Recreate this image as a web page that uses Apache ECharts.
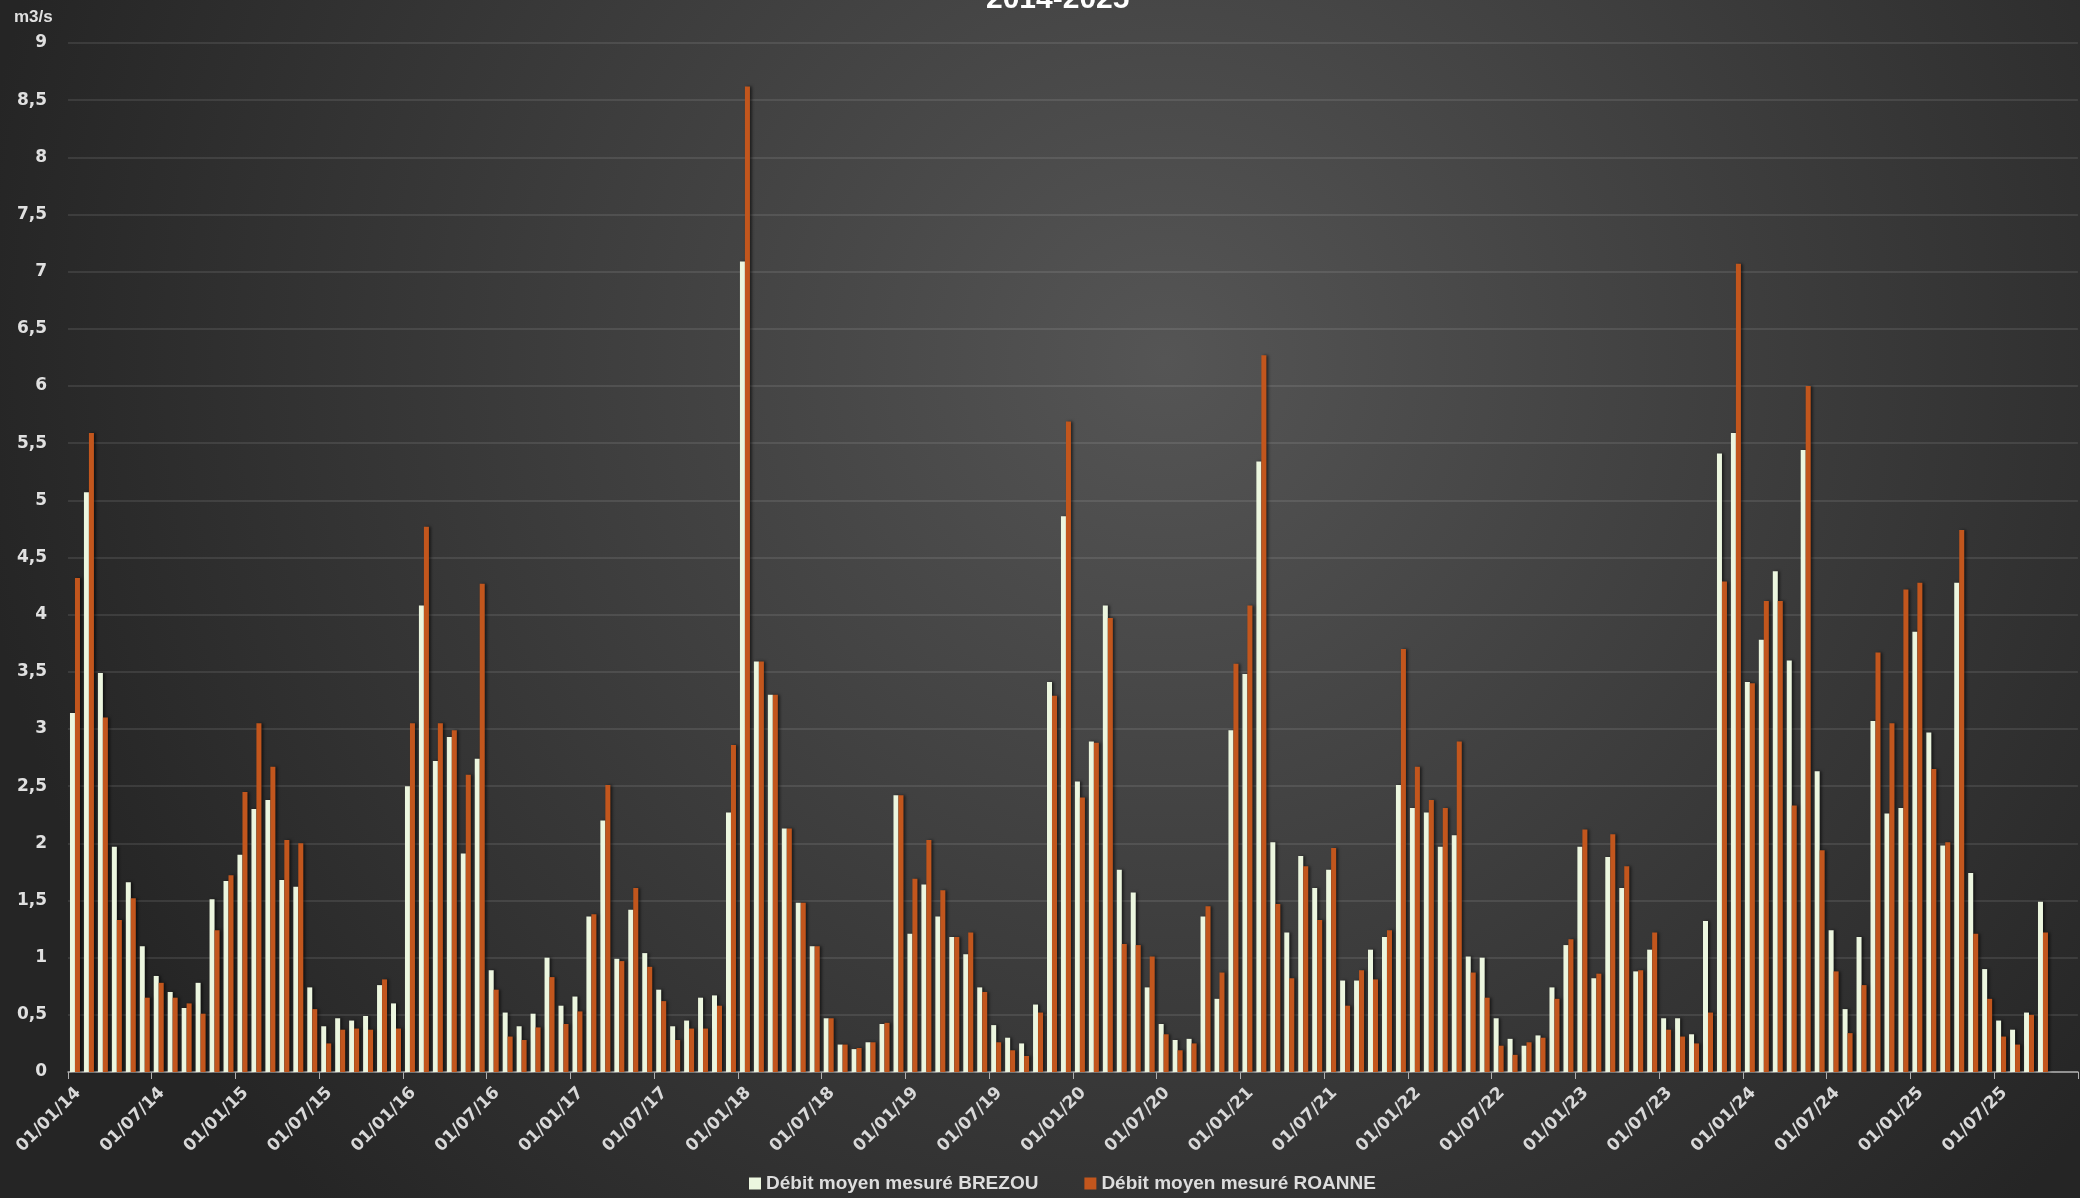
<!DOCTYPE html>
<html>
<head>
<meta charset="utf-8">
<script src="https://cdn.jsdelivr.net/npm/echarts@6/dist/echarts.min.js"></script>
<style>
  html, body { margin: 0; padding: 0; background: #2a2a2a; }
  #main { width: 2080px; height: 1198px; }
</style>
</head>
<body>
<div id="main"></div>
<script>
// mois de janvier 2014 a decembre 2025
var years = ['14', '15', '16', '17', '18', '19', '20', '21', '22', '23', '24', '25'];
var months = [];
years.forEach(function (y) {
    for (var m = 1; m <= 12; m++) months.push((m < 10 ? '0' + m : '' + m) + '/' + y);
});

var tickLabels = ['01/01/14', '01/07/14', '01/01/15', '01/07/15', '01/01/16', '01/07/16',
    '01/01/17', '01/07/17', '01/01/18', '01/07/18', '01/01/19', '01/07/19',
    '01/01/20', '01/07/20', '01/01/21', '01/07/21', '01/01/22', '01/07/22',
    '01/01/23', '01/07/23', '01/01/24', '01/07/24', '01/01/25', '01/07/25'];

// débit moyen mensuel BREZOU (m3/s)
var brezou = [
    3.14, 5.07, 3.49, 1.97, 1.66, 1.10, 0.84, 0.70, 0.56, 0.78, 1.51, 1.67,
    1.90, 2.30, 2.38, 1.68, 1.62, 0.74, 0.40, 0.47, 0.45, 0.49, 0.76, 0.60,
    2.50, 4.08, 2.72, 2.93, 1.91, 2.74, 0.89, 0.52, 0.40, 0.51, 1.00, 0.58,
    0.66, 1.36, 2.20, 0.99, 1.42, 1.04, 0.72, 0.40, 0.45, 0.65, 0.67, 2.27,
    7.09, 3.59, 3.30, 2.13, 1.48, 1.10, 0.47, 0.24, 0.20, 0.26, 0.42, 2.42,
    1.21, 1.64, 1.36, 1.18, 1.03, 0.74, 0.41, 0.30, 0.25, 0.59, 3.41, 4.86,
    2.54, 2.89, 4.08, 1.77, 1.57, 0.74, 0.42, 0.28, 0.29, 1.36, 0.64, 2.99,
    3.48, 5.34, 2.01, 1.22, 1.89, 1.61, 1.77, 0.80, 0.80, 1.07, 1.18, 2.51,
    2.31, 2.27, 1.97, 2.07, 1.01, 1.00, 0.47, 0.29, 0.23, 0.32, 0.74, 1.11,
    1.97, 0.82, 1.88, 1.61, 0.88, 1.07, 0.47, 0.47, 0.33, 1.32, 5.41, 5.59,
    3.41, 3.78, 4.38, 3.60, 5.44, 2.63, 1.24, 0.55, 1.18, 3.07, 2.26, 2.31,
    3.85, 2.97, 1.98, 4.28, 1.74, 0.90, 0.45, 0.37, 0.52, 1.49, null, null
];

// débit moyen mensuel ROANNE (m3/s)
var roanne = [
    4.32, 5.59, 3.10, 1.33, 1.52, 0.65, 0.78, 0.65, 0.60, 0.51, 1.24, 1.72,
    2.45, 3.05, 2.67, 2.03, 2.00, 0.55, 0.25, 0.37, 0.38, 0.37, 0.81, 0.38,
    3.05, 4.77, 3.05, 2.99, 2.60, 4.27, 0.72, 0.31, 0.28, 0.39, 0.83, 0.42,
    0.53, 1.38, 2.51, 0.97, 1.61, 0.92, 0.62, 0.28, 0.38, 0.38, 0.58, 2.86,
    8.62, 3.59, 3.30, 2.13, 1.48, 1.10, 0.47, 0.24, 0.21, 0.26, 0.43, 2.42,
    1.69, 2.03, 1.59, 1.18, 1.22, 0.70, 0.26, 0.19, 0.14, 0.52, 3.29, 5.69,
    2.40, 2.88, 3.97, 1.12, 1.11, 1.01, 0.33, 0.19, 0.25, 1.45, 0.87, 3.57,
    4.08, 6.27, 1.47, 0.82, 1.80, 1.33, 1.96, 0.58, 0.89, 0.81, 1.24, 3.70,
    2.67, 2.38, 2.31, 2.89, 0.87, 0.65, 0.23, 0.15, 0.26, 0.30, 0.64, 1.16,
    2.12, 0.86, 2.08, 1.80, 0.89, 1.22, 0.37, 0.31, 0.25, 0.52, 4.29, 7.07,
    3.40, 4.12, 4.12, 2.33, 6.00, 1.94, 0.88, 0.34, 0.76, 3.67, 3.05, 4.22,
    4.28, 2.65, 2.01, 4.74, 1.21, 0.64, 0.31, 0.24, 0.50, 1.22, null, null
];

var seriesNames = ['Débit moyen mesuré BREZOU', 'Débit moyen mesuré ROANNE'];

const Chart = echarts.init(document.getElementById('main'), null, { renderer: 'canvas' });

var barShadow = {
    shadowColor: 'rgba(0,0,0,0.55)',
    shadowBlur: 3,
    shadowOffsetX: 2
};

var option = {
    animation: false,
    backgroundColor: {
        type: 'radial', x: 0.56, y: 0.3, r: 1.0,
        colorStops: [
            { offset: 0, color: '#555555' },
            { offset: 1, color: '#252525' }
        ]
    },
    title: {
        text: '2014-2025',
        left: 981,
        top: -20,
        textStyle: {
            color: '#ffffff',
            fontFamily: 'Liberation Sans',
            fontWeight: 'bold',
            fontSize: 30
        }
    },
    graphic: [{
        type: 'text',
        left: 14,
        top: 9,
        style: {
            text: 'm3/s',
            fill: '#e0e0e0',
            font: 'bold 17px "Liberation Sans"'
        }
    }],
    legend: {
        data: seriesNames,
        bottom: 0,
        left: 744,
        icon: 'rect',
        itemWidth: 12,
        itemHeight: 12,
        itemGap: 46,
        itemStyle: { shadowBlur: 0, shadowOffsetX: 0 },
        textStyle: {
            color: '#dddddd',
            fontFamily: 'Liberation Sans',
            fontWeight: 'bold',
            fontSize: 19
        }
    },
    grid: {
        left: 68,
        top: 43,
        width: 2016,
        bottom: 126,
        containLabel: false
    },
    xAxis: [{
        type: 'category',
        data: months,
        axisLine: { lineStyle: { color: '#b0b0b0', width: 1.5 } },
        axisTick: { show: false },
        axisLabel: { show: false }
    }, {
        type: 'value',
        position: 'bottom',
        min: 0,
        max: 144,
        interval: 6,
        axisLine: { show: false },
        axisTick: { show: true, length: 7, lineStyle: { color: '#b0b0b0' } },
        splitLine: { show: false },
        axisLabel: {
            rotate: 45,
            margin: 8,
            verticalAlign: 'top',
            padding: [6, 0, 0, 0],
            color: '#d8d8d8',
            fontFamily: 'DejaVu Sans',
            fontWeight: 'bold',
            fontSize: 17,
            formatter: function (v) {
                var i = Math.round(v / 6);
                return tickLabels[i] || '';
            }
        }
    }],
    yAxis: {
        type: 'value',
        min: 0,
        max: 9,
        interval: 0.5,
        axisLine: { show: false },
        axisTick: { show: false },
        splitLine: { lineStyle: { color: 'rgba(255,255,255,0.13)', width: 1.5 } },
        axisLabel: {
            margin: 21,
            color: '#e0e0e0',
            fontFamily: 'DejaVu Sans',
            fontWeight: 'bold',
            fontSize: 17,
            formatter: function (v) { return String(v).replace('.', ','); }
        }
    },
    series: [{
        name: seriesNames[0],
        type: 'bar',
        xAxisIndex: 0,
        data: brezou,
        barWidth: 5,
        barGap: '0%',
        itemStyle: Object.assign({ color: '#ecf6df' }, barShadow)
    }, {
        name: seriesNames[1],
        type: 'bar',
        xAxisIndex: 0,
        data: roanne,
        barWidth: 5,
        barGap: '0%',
        itemStyle: Object.assign({ color: '#c2561d' }, barShadow)
    }]
};

Chart.setOption(option, true);
</script>
</body>
</html>
